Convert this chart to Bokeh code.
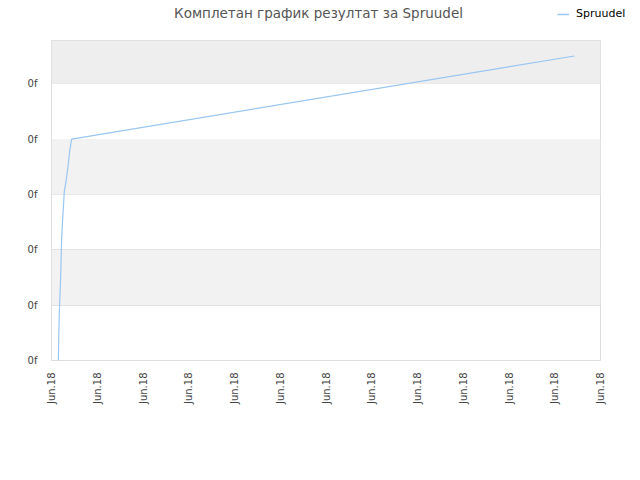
import math
from bokeh.plotting import figure
from bokeh.layouts import column, row
from bokeh.models import (ColumnDataSource, FixedTicker, BoxAnnotation, Legend,
                          LegendItem, Label, Range1d)
from bokeh.embed import file_html
from bokeh.resources import INLINE

# data (x in tick steps, y in tick steps)
series_name = "Spruudel"
title_text = "Комплетан график резултат за Spruudel"
xs = [0.15, 0.16, 0.17, 0.2, 0.22, 0.24, 0.28, 0.32, 0.36, 0.4, 0.44, 11.43]
ys = [0.0, 0.5, 0.85, 1.5, 2.15, 2.5, 3.05, 3.25, 3.5, 3.8, 4.0, 5.5]
x_ticks = list(range(13))
x_tick_labels = ["Jun.18"] * 13
y_ticks = [0, 1, 2, 3, 4, 5]
y_tick_labels = ["0f"] * 6

FONT = "DejaVu Sans"
LINE_COLOR = "#99c6f2"
W = 632

# header: title and legend (own row so its frame spans the full width)
header = figure(width=W, height=40, output_backend="svg", toolbar_location=None,
                x_range=Range1d(0, W), y_range=Range1d(0, 40), min_border=0,
                x_axis_location=None, y_axis_location=None)
header.grid.visible = False
header.outline_line_color = None
header.add_layout(Label(x=318, y=28, text=title_text, text_align="center",
                        text_baseline="middle", text_font=FONT,
                        text_font_size="13.5px", text_color="#555555"))
dummy = header.line(x=[0, 1], y=[-10, -10], line_color=LINE_COLOR, line_width=1.5)
legend = Legend(items=[LegendItem(label=series_name, renderers=[dummy])],
                location=(555, 18), label_text_font=FONT,
                label_text_font_size="11px", label_text_color="#000000",
                glyph_width=12, glyph_height=10, label_standoff=7,
                border_line_alpha=0, background_fill_alpha=0,
                padding=2, spacing=0, margin=0)
header.add_layout(legend, "center")

# main chart
p = figure(width=W, height=432, output_backend="svg", toolbar_location=None,
           x_range=Range1d(0, 12), y_range=Range1d(0, 5.78),
           min_border_left=51, min_border_right=32, min_border_top=0,
           min_border_bottom=112)
p.background_fill_color = "white"
p.border_fill_color = "white"
p.outline_line_color = "#dddddd"

for b, t, c in [(1, 2, "#f2f2f2"), (3, 4, "#f2f2f2"), (5, 5.78, "#eeeeee")]:
    p.add_layout(BoxAnnotation(bottom=b, top=t, fill_color=c, fill_alpha=1,
                               line_alpha=0, level="underlay"))

src = ColumnDataSource(data=dict(x=xs, y=ys))
p.line("x", "y", source=src, line_color=LINE_COLOR, line_width=1.2)

p.xaxis.ticker = FixedTicker(ticks=x_ticks)
p.xaxis.major_label_overrides = {t: l for t, l in zip(x_ticks, x_tick_labels)}
p.xaxis.major_label_orientation = math.pi / 2
p.yaxis.ticker = FixedTicker(ticks=y_ticks)
p.yaxis.major_label_overrides = {t: l for t, l in zip(y_ticks, y_tick_labels)}
for ax in (p.xaxis, p.yaxis):
    ax.axis_line_color = None
    ax.major_tick_line_color = None
    ax.minor_tick_line_color = None
    ax.major_label_text_font = FONT
    ax.major_label_text_font_size = "10px"
    ax.major_label_text_color = "#444444"
p.xaxis.major_label_standoff = 6
p.yaxis.major_label_standoff = 8

p.xgrid.grid_line_color = None
p.ygrid.grid_line_color = "#dddddd"

layout = column(row(header), p, spacing=0)
open("out.html", "w").write(file_html(layout, INLINE))
